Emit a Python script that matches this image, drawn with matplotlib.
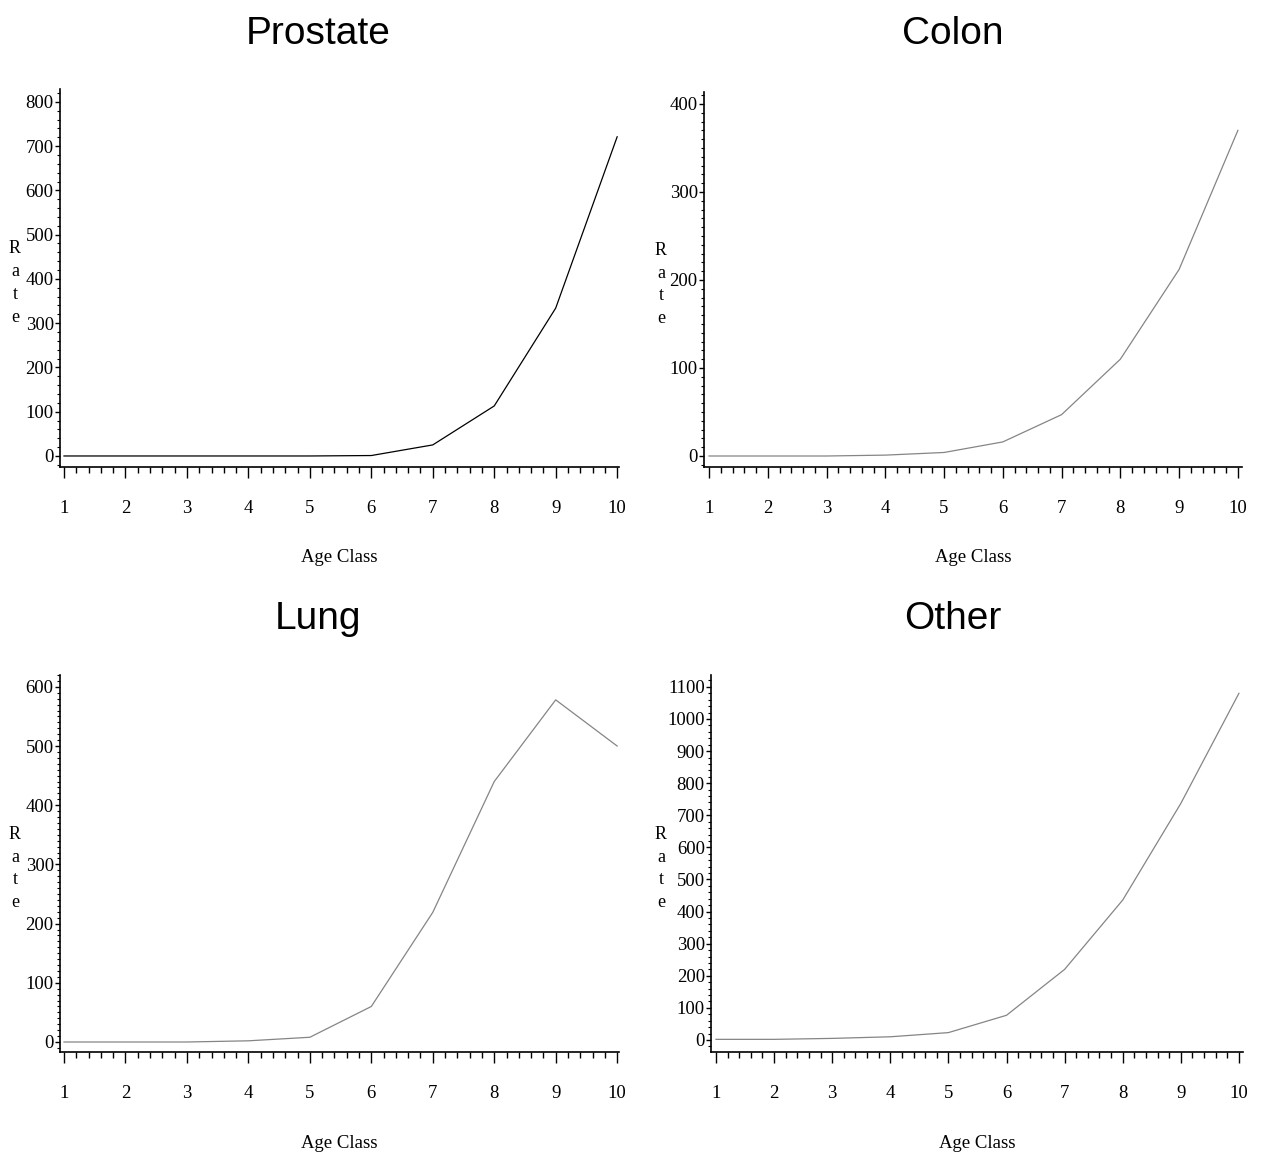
import matplotlib
matplotlib.use("Agg")
import matplotlib.pyplot as plt
from matplotlib.ticker import MultipleLocator

# Age classes and rates
age_class = [1, 2, 3, 4, 5, 6, 7, 8, 9, 10]
prostate = [0, 0, 0, 0, 0, 1, 25, 113, 334, 721]
colon = [0, 0, 0, 1, 4, 16, 47, 110, 212, 370]
lung = [0, 0, 0, 2, 8, 60, 219, 440, 578, 500]
other = [2, 2, 5, 10, 23, 77, 220, 436, 737, 1080]

titles = ["Prostate", "Colon", "Lung", "Other"]

W, H = 1261, 1157
SERIF = ["Liberation Serif", "DejaVu Serif"]
TITLE_FONT = dict(family=["Liberation Sans", "DejaVu Sans"], size=28)


def px_axes(fig, left, right, bottom, top):
    # pixel box -> figure fraction
    return fig.add_axes([left / W, (H - bottom) / H, (right - left) / W, (bottom - top) / H])


def draw_panel(fig, box, x, y, title, title_pos, rate_x, ymax, yminor, xlim, ylim, color):
    ax = px_axes(fig, *box)
    ax.plot(x, y, color=color, lw=0.9)
    ax.set_xlim(*xlim)
    ax.set_ylim(*ylim)
    ax.spines["top"].set_visible(False)
    ax.spines["right"].set_visible(False)
    for s in ("left", "bottom"):
        ax.spines[s].set_linewidth(1.2)
    ax.set_xticks(age_class)
    ax.xaxis.set_minor_locator(MultipleLocator(0.2))
    ax.set_yticks(range(0, ymax + 1, 100))
    ax.yaxis.set_minor_locator(MultipleLocator(yminor))
    ax.tick_params(axis="x", which="major", direction="out", length=8, width=1, pad=16)
    ax.tick_params(axis="x", which="minor", direction="out", length=4.5, width=1)
    ax.tick_params(axis="y", which="major", direction="out", length=3.5, width=1, pad=1)
    ax.tick_params(axis="y", which="minor", direction="out", length=2, width=0.8)
    for lab in ax.get_xticklabels() + ax.get_yticklabels():
        lab.set_fontfamily(SERIF)
        lab.set_fontsize(13.5)

    left, right, bottom, top = box
    cx = (left + right) / 2
    fig.text(title_pos[0] / W, 1 - title_pos[1] / H, title, ha="center", va="center", **TITLE_FONT)
    fig.text(cx / W, 1 - (bottom + 91) / H, "Age Class", ha="center", va="center",
             family=SERIF, size=13.5)
    fig.text(rate_x / W, 1 - ((top + bottom) / 2 + 5) / H, "R\na\nt\ne", ha="center",
             va="center", family=SERIF, size=13, linespacing=1.45)
    return ax


fig = plt.figure(figsize=(W / 100, H / 100), dpi=100)

draw_panel(fig, (60, 619, 467, 89), age_class, prostate, titles[0], (318, 34), 15, 800, 20,
           (0.935, 10.03), (-24.9, 829), "black")
draw_panel(fig, (704, 1242, 467, 92), age_class, colon, titles[1], (953, 34), 661, 400, 10,
           (0.915, 10.07), (-12.5, 413.6), "#858585")
draw_panel(fig, (60, 619, 1052, 675), age_class, lung, titles[2], (318, 619), 15, 600, 10,
           (0.935, 10.03), (-16.9, 620), "#858585")
draw_panel(fig, (711, 1243, 1052, 675), age_class, other, titles[3], (953, 619), 661, 1100, 20,
           (0.914, 10.07), (-37.4, 1137), "#858585")

fig.savefig("out.png", dpi=100)
